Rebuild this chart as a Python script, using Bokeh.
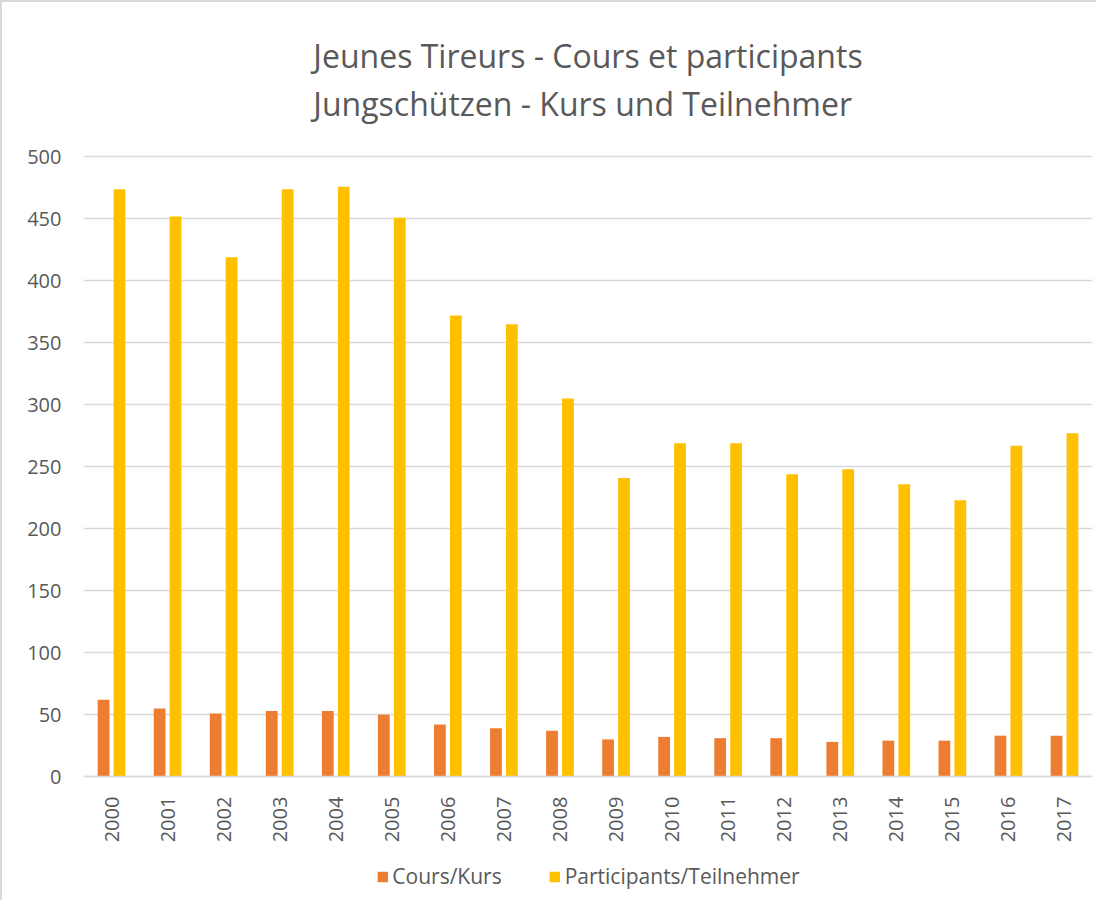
from bokeh.plotting import figure
from bokeh.models import (ColumnDataSource, FactorRange, Range1d, Legend, LegendItem,
                          Title, FixedTicker)
from bokeh.transform import dodge
from bokeh.embed import file_html
from bokeh.resources import INLINE
import math

years = [str(y) for y in range(2000, 2018)]
cours = [62, 55, 51, 53, 53, 50, 42, 39, 37, 30, 32, 31, 31, 28, 29, 29, 33, 33]
participants = [474, 452, 419, 474, 476, 451, 372, 365, 305, 241, 269, 269, 244, 248, 236, 223, 267, 277]
y_ticks = [0, 50, 100, 150, 200, 250, 300, 350, 400, 450, 500]
series_names = ["Cours/Kurs", "Participants/Teilnehmer"]
title_lines = ["Jeunes Tireurs - Cours et participants", "Jungschützen - Kurs und Teilnehmer"]

ORANGE = "#ED7D31"
YELLOW = "#FFC000"
TXT = "#595959"
GRID = "#D9D9D9"
FONT = "Open Sans"

src = ColumnDataSource(dict(year=years, cours=cours, participants=participants))

# frame extends below zero to hold the year labels and the legend
p = figure(frame_width=1009, frame_height=746, output_backend="svg", toolbar_location=None,
           x_range=FactorRange(*years, range_padding=0), y_range=Range1d(-100, 502),
           min_border_left=81, min_border_right=4, min_border_top=141, min_border_bottom=0)
p.styles = {"border-left": "2px solid #D9D9D9", "border-top": "2px solid #D9D9D9"}
p.outline_line_color = None

r1 = p.vbar(x=dodge("year", -0.142, range=p.x_range), top="cours", width=0.21,
            source=src, fill_color=ORANGE, line_color=None)
r2 = p.vbar(x=dodge("year", 0.142, range=p.x_range), top="participants", width=0.21,
            source=src, fill_color=YELLOW, line_color=None)

p.title = Title(text="\n".join(title_lines), align="center", text_font=FONT,
                text_font_size="32px", text_font_style="normal", text_color=TXT,
                text_line_height=1.13, standoff=58)

p.yaxis.ticker = FixedTicker(ticks=y_ticks)
p.yaxis.axis_line_color = None
p.yaxis.major_tick_line_color = None
p.yaxis.minor_tick_line_color = None
p.yaxis.major_label_text_font = FONT
p.yaxis.major_label_text_font_size = "20px"
p.yaxis.major_label_text_color = TXT
p.yaxis.major_label_standoff = 16

p.xaxis.fixed_location = 0
p.xaxis.axis_line_color = GRID
p.xaxis.axis_line_width = 1.5
p.xaxis.major_tick_line_color = None
p.xaxis.minor_tick_line_color = None
p.xaxis.major_label_orientation = math.pi / 2
p.xaxis.major_label_text_font = FONT
p.xaxis.major_label_text_font_size = "20px"
p.xaxis.major_label_text_color = TXT
p.xaxis.major_label_standoff = 14

p.xgrid.grid_line_color = None
p.ygrid.grid_line_color = GRID
p.ygrid.grid_line_width = 1.5

legend = Legend(items=[LegendItem(label=series_names[0], renderers=[r1]),
                       LegendItem(label=series_names[1], renderers=[r2])],
                orientation="horizontal", location="bottom_center",
                label_text_font=FONT, label_text_font_size="21px", label_text_color=TXT,
                glyph_width=13, glyph_height=13, label_standoff=4, spacing=46,
                border_line_color=None, background_fill_alpha=0, margin=10, padding=0)
p.add_layout(legend)

open("out.html", "w").write(file_html(p, INLINE))
